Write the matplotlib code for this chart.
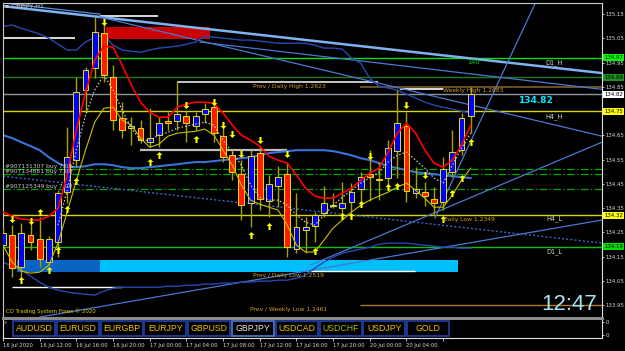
import matplotlib
matplotlib.use("Agg")
import matplotlib.pyplot as plt
import matplotlib.transforms as mtransforms
from matplotlib.patches import Rectangle
from matplotlib.path import Path
import numpy as np

# ---------------- data ----------------
bar_idx = list(range(52))
opens = [134.198, 134.239, 134.107, 134.239, 134.222, 134.128, 134.210, 134.416, 134.548, 134.837,
         134.928, 135.072, 134.890, 134.721, 134.680, 134.680, 134.622, 134.651, 134.709, 134.709,
         134.730, 134.688, 134.738, 134.767, 134.647, 134.569, 134.490, 134.371, 134.577, 134.379,
         134.441, 134.490, 134.181, 134.260, 134.276, 134.330, 134.358, 134.350, 134.375, 134.429,
         134.490, 134.470, 134.474, 134.585, 134.688, 134.412, 134.416, 134.387, 134.375, 134.499,
         134.589, 134.730]
highs = [134.268, 134.280, 134.288, 134.288, 134.313, 134.235, 134.424, 134.684, 134.890, 134.932,
         135.138, 135.126, 134.940, 134.787, 134.726, 134.713, 134.763, 134.726, 134.746, 134.870,
         134.750, 134.746, 134.783, 134.796, 134.684, 134.589, 134.548, 134.589, 134.602, 134.486,
         134.524, 134.536, 134.412, 134.313, 134.334, 134.441, 134.412, 134.457, 134.453, 134.499,
         134.589, 134.540, 134.631, 134.837, 134.746, 134.519, 134.457, 134.437, 134.561, 134.672,
         134.742, 134.849]
lows = [134.177, 134.066, 134.066, 134.177, 134.107, 134.115, 134.148, 134.371, 134.519, 134.742,
        134.886, 134.870, 134.672, 134.639, 134.610, 134.618, 134.602, 134.602, 134.672, 134.672,
        134.622, 134.672, 134.701, 134.622, 134.540, 134.466, 134.301, 134.272, 134.342, 134.313,
        134.354, 134.148, 134.165, 134.165, 134.210, 134.313, 134.350, 134.330, 134.334, 134.354,
        134.379, 134.383, 134.424, 134.474, 134.375, 134.391, 134.358, 134.321, 134.342, 134.478,
        134.569, 134.660]
closes = [134.247, 134.103, 134.247, 134.210, 134.140, 134.222, 134.412, 134.561, 134.829, 134.919,
          135.076, 134.899, 134.713, 134.672, 134.688, 134.631, 134.639, 134.701, 134.701, 134.738,
          134.701, 134.730, 134.758, 134.660, 134.561, 134.499, 134.363, 134.565, 134.387, 134.449,
          134.478, 134.189, 134.272, 134.272, 134.321, 134.371, 134.363, 134.371, 134.416, 134.478,
          134.478, 134.466, 134.598, 134.701, 134.420, 134.429, 134.400, 134.371, 134.511, 134.581,
          134.721, 134.820]

red_ma = [134.334, 134.317, 134.305, 134.301, 134.301, 134.317, 134.350, 134.486, 134.672, 134.828,
          134.960, 135.018, 135.014, 134.940, 134.857, 134.787, 134.746, 134.725, 134.725, 134.766,
          134.779, 134.787, 134.787, 134.783, 134.742, 134.692, 134.651, 134.630, 134.606, 134.564,
          134.548, 134.536, 134.486, 134.432, 134.400, 134.391, 134.391, 134.412, 134.432, 134.465,
          134.494, 134.515, 134.581, 134.659, 134.700, 134.659, 134.589, 134.536, 134.519, 134.548,
          134.610, 134.692]
yellow_env = [134.197, 134.127, 134.090, 134.082, 134.086, 134.115, 134.206, 134.334, 134.465, 134.589,
              134.705, 134.762, 134.766, 134.713, 134.692, 134.639, 134.601, 134.614, 134.647, 134.659,
              134.663, 134.667, 134.676, 134.651, 134.589, 134.527, 134.445, 134.383, 134.366, 134.354,
              134.342, 134.280, 134.197, 134.169, 134.169, 134.218, 134.268, 134.301, 134.334, 134.362,
              134.383, 134.400, 134.416, 134.437, 134.453, 134.424, 134.391, 134.354, 134.354, 134.404,
              134.465, 134.515]
grey_dot_idx = list(range(6, 52))
grey_dot = [134.280, 134.424, 134.589, 134.733, 134.837, 134.899, 134.837, 134.754, 134.680, 134.630,
            134.630, 134.651, 134.663, 134.680, 134.688, 134.696, 134.705, 134.692, 134.630, 134.581,
            134.527, 134.445, 134.395, 134.383, 134.383, 134.362, 134.321, 134.292, 134.280, 134.321,
            134.362, 134.395, 134.424, 134.453, 134.474, 134.498, 134.540, 134.568, 134.581, 134.548,
            134.515, 134.474, 134.453, 134.527, 134.597, 134.659]
band_mid = [134.651, 134.639, 134.622, 134.606, 134.589, 134.560, 134.536, 134.519, 134.519, 134.523,
            134.531, 134.531, 134.527, 134.519, 134.515, 134.515, 134.519, 134.523, 134.527, 134.531,
            134.536, 134.540, 134.540, 134.544, 134.548, 134.552, 134.556, 134.560, 134.568, 134.577,
            134.581, 134.585, 134.589, 134.589, 134.589, 134.589, 134.585, 134.577, 134.568, 134.556,
            134.548, 134.536, 134.523, 134.515, 134.507, 134.498, 134.494, 134.490, 134.486, 134.482,
            134.478, 134.474]
band_up = [135.100, 135.105, 135.092, 135.080, 135.068, 135.051, 135.026, 135.002, 135.002, 135.035,
           135.055, 135.063, 135.022, 135.002, 134.997, 134.993, 135.002, 135.010, 135.014, 135.018,
           135.026, 135.035, 135.059, 135.055, 135.051, 135.047, 135.043, 135.043, 135.039, 135.035,
           135.030, 135.030, 135.030, 135.030, 135.022, 135.010, 135.010, 135.006, 134.969, 134.948,
           134.886, 134.853, 134.845, 134.837, 134.820, 134.804, 134.787, 134.775, 134.766, 134.758,
           134.750, 134.742]
band_low = [134.127, 134.111, 134.094, 134.070, 134.045, 134.024, 134.012, 134.004, 133.999, 133.995,
            133.991, 134.008, 134.020, 134.024, 134.024, 134.024, 134.024, 134.024, 134.028, 134.028,
            134.032, 134.032, 134.037, 134.037, 134.041, 134.041, 134.045, 134.045, 134.049, 134.049,
            134.053, 134.053, 134.061, 134.074, 134.103, 134.127, 134.148, 134.164, 134.173, 134.181,
            134.189, 134.201, 134.206, 134.206, 134.206, 134.201, 134.197, 134.193, 134.189, 134.189,
            134.185, 134.185]

up_arrow_idx = [2, 4, 5, 6, 7, 8, 16, 17, 21, 27, 29, 34, 37, 38, 39, 42, 43, 48, 49, 50, 51]
up_arrow_px = [134.053, 134.334, 134.094, 134.177, 134.346, 134.462, 134.540, 134.569, 134.635, 134.239,
               134.276, 134.173, 134.317, 134.317, 134.367, 134.437, 134.441, 134.305, 134.412, 134.474,
               134.622]
dn_arrow_idx = [1, 3, 11, 20, 23, 24, 25, 26, 28, 31, 40, 44, 46]
dn_arrow_px = [134.305, 134.297, 135.117, 134.775, 134.787, 134.692, 134.655, 134.573, 134.631, 134.573,
               134.565, 134.775, 134.486]

level_prices = [134.97, 134.89, 134.82, 134.75, 134.32, 134.19]
level_colors = ['#00e000', '#1c7a1c', '#8c96a0', '#d8d800', '#d8d800', '#10c010']
box_colors = ['#00ff00', '#1f8f1f', '#ffffff', '#ffff00', '#ffff00', '#00e000']
order_prices = [134.511, 134.490, 134.429]
order_labels = ['#907131307 buy 7.00', '#907134681 buy 7.00', '#907125349 buy 7.00']

price_ticks = [133.95, 134.05, 134.15, 134.25, 134.35, 134.45, 134.55, 134.65, 134.75, 134.85,
               134.95, 135.05, 135.15]
time_tick_idx = [0, 4, 8, 12, 16, 20, 24, 28, 32, 36, 40, 44, 48]
time_labels = ['16 Jul 2020', '16 Jul 12:00', '16 Jul 16:00', '16 Jul 20:00', '17 Jul 00:00',
               '17 Jul 04:00', '17 Jul 08:00', '17 Jul 12:00', '17 Jul 16:00', '17 Jul 20:00',
               '20 Jul 00:00', '20 Jul 04:00', '']
buttons = ['AUDUSD', 'EURUSD', 'EURGBP', 'EURJPY', 'GBPUSD', 'GBPJPY', 'USDCAD', 'USDCHF', 'USDJPY', 'GOLD']
button_colors = ['#e8c000'] * 5 + ['#e6e6e6', '#e8c000', '#a8b800', '#e8c000', '#e8c000']

# ---------------- layout ----------------
W, H = 625, 351
fig = plt.figure(figsize=(6.25, 3.51), dpi=100, facecolor='black')


def fx(px):
    return px / W


def fy(py):
    return 1 - py / H


XMIN, XMAX = 0.0, 65.32
YMIN, YMAX = 133.897, 135.196

ax = fig.add_axes([fx(3), fy(318), fx(602) - fx(3), fy(3) - fy(318)])
ax.set_facecolor('black')
ax.set_xlim(XMIN, XMAX)
ax.set_ylim(YMIN, YMAX)
for s in ['left', 'top']:
    ax.spines[s].set_color('#c8c8c8')
    ax.spines[s].set_linewidth(0.8)
ax.spines['right'].set_color('#e0e0e0')
ax.spines['right'].set_linewidth(0.8)
ax.spines['bottom'].set_color('#8a8a8a')
ax.spines['bottom'].set_linewidth(2.2)
ax.set_xticks([])
ax.yaxis.tick_right()
ax.set_yticks(price_ticks)
# 134.75 is hidden under the yellow level box in the reference
ax.set_yticklabels(['' if abs(p - 134.75) < 1e-6 else f'{p:.2f}' for p in price_ticks])
ax.tick_params(axis='y', colors='#d8d8d8', labelsize=3.9, length=1.5, width=0.6, pad=1.0)

xt = np.array(bar_idx, dtype=float)
o = np.array(opens); c = np.array(closes); h = np.array(highs); l = np.array(lows)

# horizontal levels
for p, col in zip(level_prices, level_colors):
    ax.axhline(p, color=col, lw=1.0, zorder=1)
for p in order_prices:
    ax.axhline(p, color='#00a800', lw=0.9, ls=(0, (6, 2, 1, 2)), zorder=1)

# short segments
ax.hlines(135.142, 10.58, 16.9, color='white', lw=1.2, zorder=1)
ax.hlines(135.051, 0.0, 7.85, color='white', lw=1.2, zorder=1)
ax.hlines(134.870, 18.97, 40.9, color='#e8e8e8', lw=1.2, zorder=1)
ax.hlines(134.849, 38.9, XMAX, color='#6b5020', lw=1.4, zorder=1)
ax.hlines(134.841, 43.3, 48.0, color='white', lw=1.2, zorder=1)
ax.hlines(134.589, 14.94, 30.97, color='#bdbdbd', lw=1.6, zorder=1)
ax.hlines(134.024, 0.98, 12.98, color='white', lw=1.0, zorder=1)
ax.hlines(133.950, 38.9, XMAX, color='#b07a20', lw=1.0, zorder=1)

# rectangles
ax.add_patch(Rectangle((11.23, 135.047), 22.57 - 11.23, 135.097 - 135.047, fc='#cc0000', ec='none', zorder=1.2))
ax.add_patch(Rectangle((1.53, 134.086), 10.58 - 1.53, 134.136 - 134.086, fc='#0b63c4', ec='none', zorder=1.2))
ax.add_patch(Rectangle((10.58, 134.086), 49.6 - 10.58, 134.136 - 134.086, fc='#00bfff', ec='none', zorder=1.2))
ax.hlines(134.090, 33.5, 44.9, color='white', lw=1.0, zorder=1.3)

# trend lines
ax.plot([0.0, XMAX], [135.183, 134.907], color='#7fb2f0', lw=1.8, zorder=1.5)
ax.plot([0.0, 10.58], [135.196, 135.150], color='#5a8ee0', lw=0.9, zorder=1.5)
ax.plot([10.58, XMAX], [135.138, 134.647], color='#4a78d0', lw=0.9, zorder=1.5)
ax.plot([21.5, XMAX], [135.035, 134.840], color='#4a78d0', lw=0.9, zorder=1.5)
ax.plot([47.1, 58.2], [134.309, 135.208], color='#4a78d0', lw=0.9, zorder=1.5)
ax.plot([33.5, XMAX], [134.115, 134.622], color='#4a78d0', lw=0.9, zorder=1.5)
ax.plot([4.03, XMAX], [133.901, 134.301], color='#4a78d0', lw=0.9, zorder=1.5)
ax.plot([0.0, XMAX], [134.482, 134.206], color='#3a64c0', lw=1.0, ls=(0, (1.5, 1.5)), zorder=1.5)

# bands
ax.plot(xt, band_up, color='#2848b0', lw=1.0, zorder=1.6)
ax.plot(xt, band_low, color='#2848b0', lw=1.0, zorder=1.6)
ax.plot(xt, band_mid, color='#3a72dc', lw=1.5, zorder=1.6)

# candles
cols = ['#0000ff' if cc >= oo else '#ff1a00' for oo, cc in zip(opens, closes)]
ax.vlines(xt, l, h, color='#a8a000', lw=1.0, zorder=3)
ax.bar(xt, np.maximum(np.abs(c - o), 0.002), bottom=np.minimum(o, c), width=0.64,
       color=cols, edgecolor='#e8e000', linewidth=0.7, zorder=3.2)

# indicator lines
ax.plot(xt, yellow_env, color='#c8c000', lw=0.8, zorder=3.5)
ax.plot(grey_dot_idx, grey_dot, color='#c8c8c8', lw=0.9, ls=(0, (1.2, 1.6)), zorder=3.5)
ax.plot(xt, red_ma, color='#ff0000', lw=1.2, zorder=3.6)

# arrows
up_path = Path([(0, 1), (0.85, 0.15), (0.3, 0.15), (0.3, -1), (-0.3, -1), (-0.3, 0.15), (-0.85, 0.15), (0, 1)],
               [Path.MOVETO] + [Path.LINETO] * 6 + [Path.CLOSEPOLY])
dn_path = Path([(0, -1), (0.85, -0.15), (0.3, -0.15), (0.3, 1), (-0.3, 1), (-0.3, -0.15), (-0.85, -0.15), (0, -1)],
               [Path.MOVETO] + [Path.LINETO] * 6 + [Path.CLOSEPOLY])
ax.plot(up_arrow_idx, up_arrow_px, ls='none', marker=up_path, ms=5, color='#ffff00', mec='none', zorder=4)
ax.plot(dn_arrow_idx, dn_arrow_px, ls='none', marker=dn_path, ms=5, color='#ffff00', mec='none', zorder=4)

# texts on chart
lbl_col = '#d4a020'
tfs = 4.3
ax.text(27.26, 134.853, 'Prev / Daily High 1.2623', color=lbl_col, fontsize=tfs, va='center', zorder=5)
ax.text(48.0, 134.837, 'Weekly High 1.2683', color=lbl_col, fontsize=tfs, va='center', zorder=5)
ax.text(27.26, 134.074, 'Prev / Daily Low 1.2519', color=lbl_col, fontsize=tfs, va='center', zorder=5)
ax.text(48.0, 134.305, 'Daily Low 1.2349', color=lbl_col, fontsize=tfs, va='center', zorder=5)
ax.text(26.9, 133.934, 'Prev / Weekly Low 1.2461', color=lbl_col, fontsize=tfs, va='center', zorder=5)
ax.text(50.6, 134.952, '140', color='#00c000', fontsize=tfs + 0.5, va='center', zorder=5)
for t, px_, py_ in [('D1_H', 59.1, 134.952), ('H4_H', 59.1, 134.729), ('H4_L', 59.3, 134.305), ('D1_L', 59.2, 134.169)]:
    ax.text(px_, py_, t, color='#d0d0b0', fontsize=tfs + 0.5, va='center', zorder=5)
ax.text(56.2, 134.795, '134.82', color='#00e8ff', fontsize=6.5, fontweight='bold', va='center', zorder=5)
for lab, p in zip(order_labels, [134.523, 134.503, 134.441]):
    ax.text(0.22, p, lab, color='#c8c8c8', fontsize=tfs, va='center', zorder=5)

# price boxes on right axis
trans = mtransforms.blended_transform_factory(ax.transAxes, ax.transData)
for p, bc in zip(level_prices, box_colors):
    ax.text(1.004, p, f'{p:.2f}', transform=trans, ha='left', va='center', fontsize=3.9, color='black',
            bbox=dict(boxstyle='square,pad=0.18', fc=bc, ec='none'), clip_on=False, zorder=6)

# ---------------- sub window with buttons ----------------
sub = fig.add_axes([fx(3), fy(338), fx(602) - fx(3), fy(320) - fy(338)])
sub.set_facecolor('black')
sub.set_xlim(XMIN, XMAX)
sub.set_ylim(0, 1)
sub.spines['top'].set_visible(False)
for s in ['left', 'right', 'bottom']:
    sub.spines[s].set_color('#e0e0e0')
    sub.spines[s].set_linewidth(0.8)
sub.yaxis.tick_right()
sub.set_yticks([0.17, 0.88])
sub.set_yticklabels(['0', '0'])
sub.tick_params(axis='y', colors='#d8d8d8', labelsize=3.9, length=1.5, width=0.6, pad=1.0)
sub.set_xticks(time_tick_idx)
sub.set_xticklabels(time_labels)
sub.tick_params(axis='x', colors='#d8d8d8', labelsize=3.8, length=2.5, width=0.6, pad=1.0)
for tl in sub.get_xticklabels():
    tl.set_ha('left')

for k, (name, tc) in enumerate(zip(buttons, button_colors)):
    x0 = 13 + 43.8 * k
    ec = '#5070c8' if name == 'GBPJPY' else '#1e3c9a'
    fig.add_artist(Rectangle((fx(x0), fy(335.5)), fx(42), fy(321) - fy(335.5), transform=fig.transFigure,
                             fc='black', ec=ec, lw=1.3))
    fig.text(fx(x0 + 21), fy(328.3), name, color=tc, fontsize=6.3, ha='center', va='center',
             family='Liberation Sans')
fig.text(fx(4), fy(322), 'x', color='#a0a0a0', fontsize=4, ha='left', va='center')

# ---------------- overlay texts ----------------
fig.text(fx(5), fy(6.5), '\u25aa GBPJPY,H1', color='#c8c8c8', fontsize=4.5, ha='left', va='center')
fig.text(fx(6), fy(311), 'CO Trading System Forex \u00a9 2020', color='#e8d000', fontsize=3.9, ha='left', va='center')
fig.text(fx(597), fy(304), '12:47', color='#a8e4f2', fontsize=16, ha='right', va='center', family='Liberation Sans')

fig.savefig('out.png', dpi=100, facecolor='black')
